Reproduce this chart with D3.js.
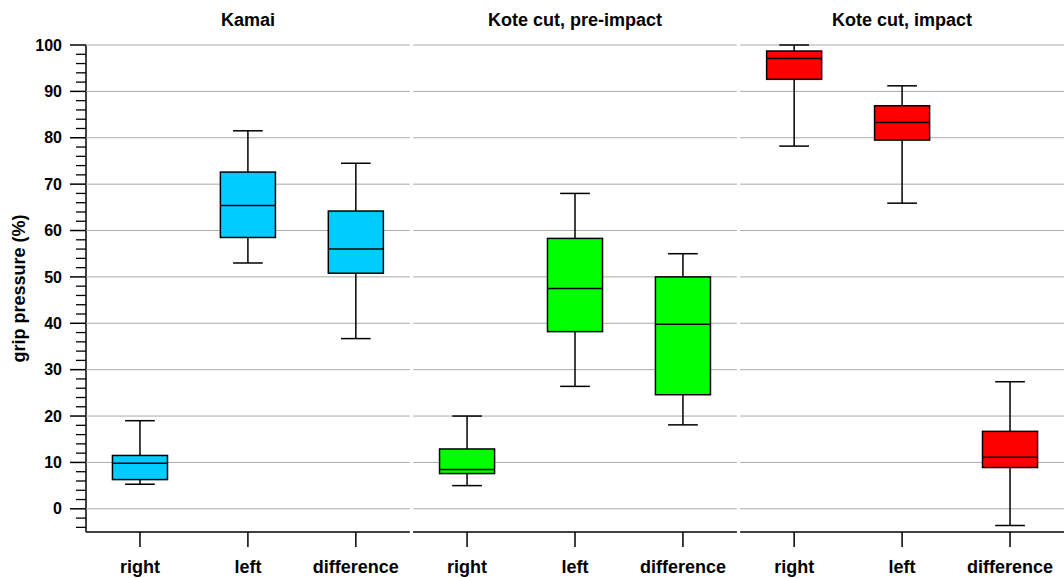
<!DOCTYPE html>
<html>
<head>
<meta charset="utf-8">
<script src="https://cdn.jsdelivr.net/npm/d3@7"></script>
<style>
  body { margin: 0; background: #fff; }
  svg { font-family: "Liberation Sans", Arial, sans-serif; font-weight: bold; }
</style>
</head>
<body>
<div id="chart"></div>
<script>
// panels and categories
var panels = ["Kamai", "Kote cut, pre-impact", "Kote cut, impact"];
var categories = ["right", "left", "difference"];
var colors = ["#00ccff", "#00ff00", "#ff0000"];

// box stats per panel: [min, q1, median, q3, max], in category order
var kamai = [[5.3, 6.3, 9.8, 11.5, 19], [53, 58.5, 65.4, 72.6, 81.5], [36.7, 50.8, 56, 64.2, 74.5]];
var preImpact = [[5, 7.6, 8.5, 12.9, 20], [26.4, 38.2, 47.5, 58.3, 68], [18.1, 24.6, 39.8, 50, 55]];
var impact = [[78.2, 92.6, 97.1, 98.7, 100], [65.9, 79.5, 83.3, 86.9, 91.2], [-3.6, 8.9, 11.1, 16.7, 27.4]];
var stats = [kamai, preImpact, impact];

var yTicks = [0, 10, 20, 30, 40, 50, 60, 70, 80, 90, 100];

var W = 1064, H = 578;
var svg = d3.select("#chart").append("svg").attr("width", W).attr("height", H);

var y = d3.scaleLinear().domain([-5, 100]).range([532, 45]);

var panelX = d3.scaleBand().domain(panels).range([86, 86 + 3 * 326]).paddingInner(0.01);

// y axis
var yAxis = svg.append("g").attr("transform", "translate(86,0)");
yAxis.append("line").attr("y1", y(100)).attr("y2", y(-5)).attr("stroke", "#000").attr("stroke-width", 1.5);
yAxis.selectAll(".minor").data(d3.range(-4, 100, 2).filter(function (v) { return v % 10 !== 0; }))
  .enter().append("line")
  .attr("x1", -10).attr("x2", 0)
  .attr("y1", function (d) { return y(d); }).attr("y2", function (d) { return y(d); })
  .attr("stroke", "#000").attr("stroke-width", 1.3);
yAxis.selectAll(".major").data(yTicks).enter().append("line")
  .attr("x1", -16).attr("x2", 0)
  .attr("y1", function (d) { return y(d); }).attr("y2", function (d) { return y(d); })
  .attr("stroke", "#000").attr("stroke-width", 1.5);
yAxis.selectAll(".lab").data(yTicks).enter().append("text")
  .attr("x", -24).attr("y", function (d) { return y(d); })
  .attr("dy", "0.35em").attr("text-anchor", "end")
  .attr("font-size", 16).text(function (d) { return d; });

svg.append("text")
  .attr("transform", "translate(25," + ((y(100) + y(-5)) / 2) + ") rotate(-90)")
  .attr("text-anchor", "middle").attr("font-size", 18)
  .text("grip pressure (%)");

panels.forEach(function (p, pi) {
  var x0 = panelX(p), bw = panelX.bandwidth();
  var g = svg.append("g").attr("transform", "translate(" + x0 + ",0)");
  var x = d3.scaleBand().domain(categories).range([0, bw]);

  // gridlines
  g.selectAll(".grid").data(yTicks).enter().append("line")
    .attr("x1", 0).attr("x2", bw)
    .attr("y1", function (d) { return y(d); }).attr("y2", function (d) { return y(d); })
    .attr("stroke", "#aaa").attr("stroke-width", 1);

  // x axis
  g.append("line").attr("x1", 0).attr("x2", bw).attr("y1", y(-5)).attr("y2", y(-5))
    .attr("stroke", "#000").attr("stroke-width", 1.5);
  g.selectAll(".xt").data(categories).enter().append("line")
    .attr("x1", function (d) { return x(d) + x.bandwidth() / 2; })
    .attr("x2", function (d) { return x(d) + x.bandwidth() / 2; })
    .attr("y1", y(-5)).attr("y2", y(-5) + 15)
    .attr("stroke", "#000").attr("stroke-width", 1.5);
  g.selectAll(".xl").data(categories).enter().append("text")
    .attr("x", function (d) { return x(d) + x.bandwidth() / 2; })
    .attr("y", 573).attr("text-anchor", "middle").attr("font-size", 18)
    .text(function (d) { return d; });

  // title
  g.append("text").attr("x", bw / 2).attr("y", 26).attr("text-anchor", "middle")
    .attr("font-size", 18).text(p);

  // boxes
  var boxW = x.bandwidth() * 0.51;
  var b = g.selectAll(".box").data(stats[pi]).enter().append("g")
    .attr("transform", function (d, i) { return "translate(" + (x(categories[i]) + x.bandwidth() / 2) + ",0)"; });
  b.append("line").attr("x1", 0).attr("x2", 0)
    .attr("y1", function (d) { return y(d[0]); }).attr("y2", function (d) { return y(d[4]); })
    .attr("stroke", "#000").attr("stroke-width", 1.5);
  b.append("line").attr("x1", -boxW * 0.27).attr("x2", boxW * 0.27)
    .attr("y1", function (d) { return y(d[0]); }).attr("y2", function (d) { return y(d[0]); })
    .attr("stroke", "#000").attr("stroke-width", 1.5);
  b.append("line").attr("x1", -boxW * 0.27).attr("x2", boxW * 0.27)
    .attr("y1", function (d) { return y(d[4]); }).attr("y2", function (d) { return y(d[4]); })
    .attr("stroke", "#000").attr("stroke-width", 1.5);
  b.append("rect").attr("x", -boxW / 2).attr("width", boxW)
    .attr("y", function (d) { return y(d[3]); })
    .attr("height", function (d) { return y(d[1]) - y(d[3]); })
    .attr("fill", colors[pi]).attr("stroke", "#000").attr("stroke-width", 1.5);
  b.append("line").attr("x1", -boxW / 2).attr("x2", boxW / 2)
    .attr("y1", function (d) { return y(d[2]); }).attr("y2", function (d) { return y(d[2]); })
    .attr("stroke", "#000").attr("stroke-width", 1.5);
});
</script>
</body>
</html>
